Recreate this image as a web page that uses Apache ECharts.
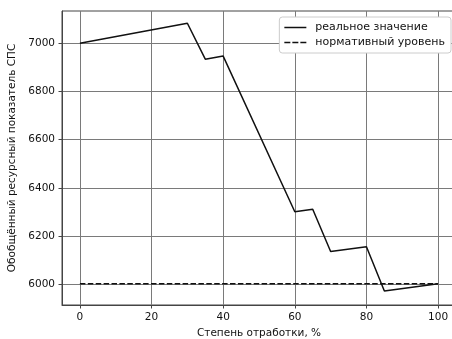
<!DOCTYPE html>
<html>
<head>
<meta charset="utf-8">
<script src="https://cdn.jsdelivr.net/npm/echarts@6/dist/echarts.min.js"></script>
<style>
  html, body { margin: 0; padding: 0; background: #fff; }
  #chart { width: 452px; height: 339px; }
</style>
</head>
<body>
<div id="chart"></div>
<script>
// Степень отработки, %
const progress = [0, 30, 35, 40, 60, 65, 70, 80, 85, 100];
// Обобщённый ресурсный показатель (реальное значение)
const realValues = [7000, 7083, 6934, 6947, 6301, 6311, 6136, 6156, 5972, 6002];
// Нормативный уровень
const normX = [0, 100];
const normValues = [6002, 6002];
// Tick positions
const xTicks = [0, 20, 40, 60, 80, 100];
const yTicks = [6000, 6200, 6400, 6600, 6800, 7000];

const FONT = 'DejaVu Sans';
const chart = echarts.init(document.getElementById('chart'), null, { renderer: 'canvas' });

const realData = progress.map((x, i) => [x, realValues[i]]);
const normData = normX.map((x, i) => [x, normValues[i]]);

// legend glyphs: a solid stroke and a three-dash stroke
const solidIcon = 'path://M0,0h22v1.5h-22z';
const dashIcon = 'path://M0,0h6v1.5h-6zM8,0h6v1.5h-6zM16,0h6v1.5h-6z';

chart.setOption({
  animation: false,
  backgroundColor: '#ffffff',
  textStyle: { fontFamily: FONT },
  grid: {
    left: 62, top: 11, right: -4, bottom: 34,
    outerBoundsMode: 'none', containLabel: false,
    show: true, borderColor: '#444', borderWidth: 1, backgroundColor: 'transparent'
  },
  legend: {
    right: 1, top: 17,
    orient: 'vertical',
    itemWidth: 22, itemHeight: 1.5, itemGap: 4,
    padding: [5, 6, 5, 5],
    backgroundColor: '#ffffff',
    borderColor: '#cccccc', borderWidth: 1, borderRadius: 3,
    textStyle: { fontFamily: FONT, fontSize: 11, color: '#111', padding: [0, 0, 0, 4] },
    data: [
      { name: 'реальное значение', icon: solidIcon },
      { name: 'нормативный уровень', icon: dashIcon }
    ]
  },
  xAxis: {
    type: 'value', min: -5, max: 105,
    name: 'Степень отработки, %',
    nameLocation: 'middle', nameGap: 16,
    nameTextStyle: { fontFamily: FONT, fontSize: 10.5, color: '#111' },
    axisLine: { show: true, onZero: false, lineStyle: { color: '#444', width: 1 } },
    axisTick: { show: true, length: 3.5, customValues: xTicks, lineStyle: { color: '#444' } },
    axisLabel: { customValues: xTicks, margin: 7, fontFamily: FONT, fontSize: 10.5, color: '#111',
      formatter: v => String(v) },
    splitLine: { show: true, customValues: xTicks, lineStyle: { color: '#7a7a7a', width: 1 } }
  },
  yAxis: {
    type: 'value', min: 5914, max: 7134,
    name: 'Обобщённый ресурсный показатель СПС',
    nameLocation: 'middle', nameGap: 39,
    nameTextStyle: { fontFamily: FONT, fontSize: 10.5, color: '#111' },
    axisLine: { show: true, onZero: false, lineStyle: { color: '#444', width: 1 } },
    axisTick: { show: true, length: 3.5, customValues: yTicks, lineStyle: { color: '#444' } },
    axisLabel: { customValues: yTicks, margin: 7, fontFamily: FONT, fontSize: 10.5, color: '#111',
      formatter: v => String(v) },
    splitLine: { show: true, customValues: yTicks, lineStyle: { color: '#7a7a7a', width: 1 } }
  },
  series: [
    {
      name: 'реальное значение', type: 'line', data: realData,
      symbol: 'none', color: '#111',
      lineStyle: { color: '#111', width: 1.5 }
    },
    {
      name: 'нормативный уровень', type: 'line', data: normData,
      symbol: 'none', color: '#111',
      lineStyle: { color: '#111', width: 1.5, type: [5.5, 2.4] }
    }
  ]
});
</script>
</body>
</html>
